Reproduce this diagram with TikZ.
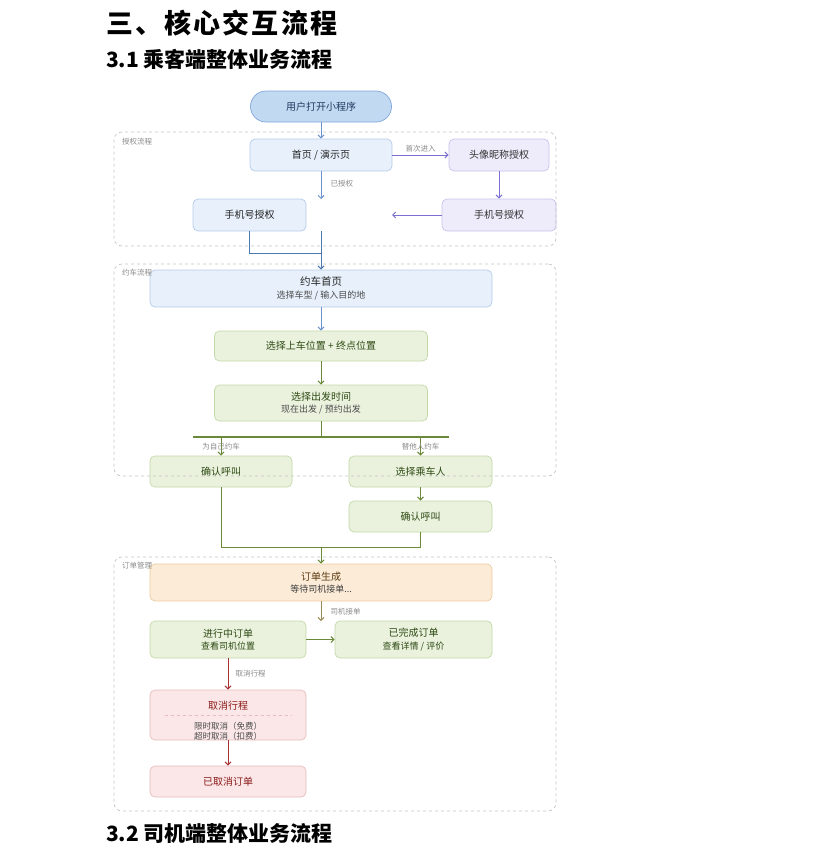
\documentclass[tikz,border=0pt]{standalone}
\usepackage{fontspec}
\setmainfont{Noto Sans CJK SC}
\newfontfamily\cjk{Noto Sans CJK SC}
\newfontfamily\cjktitle[LetterSpace=8]{Noto Sans CJK SC}
\newfontfamily\cjksub{Noto Sans CJK SC}
\usetikzlibrary{arrows.meta}
\definecolor{startfill}{HTML}{C2D9F2}
\definecolor{startdraw}{HTML}{7EA6DA}
\definecolor{bluefill}{HTML}{E7F0FB}
\definecolor{bluedraw}{HTML}{B4CBE8}
\definecolor{purpfill}{HTML}{EEEBFA}
\definecolor{purpdraw}{HTML}{C9C1EA}
\definecolor{greenfill}{HTML}{EAF2DE}
\definecolor{greendraw}{HTML}{C3D8A8}
\definecolor{orfill}{HTML}{FCEBD7}
\definecolor{ordraw}{HTML}{ECCB9F}
\definecolor{redfill}{HTML}{FBE7E7}
\definecolor{reddraw}{HTML}{E6BCBC}
\definecolor{bluearr}{HTML}{6A92CC}
\definecolor{bluedark}{HTML}{4A78B0}
\definecolor{purparr}{HTML}{7B6FCF}
\definecolor{greenarr}{HTML}{6A8A3A}
\definecolor{brownarr}{HTML}{9A8A5A}
\definecolor{redarr}{HTML}{A63232}
\definecolor{greentext}{HTML}{2E4A14}
\definecolor{redtext}{HTML}{8B1A1A}
\definecolor{ortext}{HTML}{5A3A10}
\definecolor{bluetext}{HTML}{1F3A5F}
\definecolor{lbl}{HTML}{8A8A8A}
\definecolor{grp}{HTML}{C4C4C4}
\begin{document}
\begin{tikzpicture}[x=1pt,y=-1pt,
  box/.style={draw, rounded corners=5pt, line width=0.7pt, align=center, inner sep=0pt,
    font=\cjk\fontsize{10}{12.5}\selectfont},
  bluebox/.style={box, fill=bluefill, draw=bluedraw, text=black!85},
  purpbox/.style={box, fill=purpfill, draw=purpdraw, text=black!80},
  greenbox/.style={box, fill=greenfill, draw=greendraw, text=greentext},
  orbox/.style={box, fill=orfill, draw=ordraw, text=ortext},
  redbox/.style={box, fill=redfill, draw=reddraw, text=redtext},
  grpbox/.style={draw=grp, dashed, rounded corners=8pt, line width=0.7pt, inner sep=0pt},
  grplbl/.style={font=\cjk\fontsize{7.5}{8}\selectfont, text=lbl, inner sep=0pt, anchor=west},
  elbl/.style={font=\cjk\fontsize{7.5}{8}\selectfont, text=lbl, inner sep=1pt},
  arr/.style={line width=1pt, -{Straight Barb[length=3pt,width=6pt]}},
  ln/.style={line width=1pt}
]
\useasboundingbox (0,0) rectangle (816,854);
% titles
\node[anchor=west, inner sep=0pt, font=\cjktitle\bfseries\fontsize{27}{30}\selectfont] (t1) at (106,23) {三、核心交互流程};
\node[anchor=west, inner sep=0pt, font=\cjksub\bfseries\fontsize{21}{24}\selectfont] (t2) at (106,59) {3.1 乘客端整体业务流程};
\node[anchor=west, inner sep=0pt, font=\cjksub\bfseries\fontsize{21}{24}\selectfont] (t3) at (106,834) {3.2 司机端整体业务流程};

% nodes
\node[box, fill=startfill, draw=startdraw, text=bluetext, rounded corners=15.5pt, minimum width=141pt, minimum height=31pt] (start) at (321,106.5) {用户打开小程序};
\node[bluebox, minimum width=142pt, minimum height=32pt] (home) at (321,155) {首页 / 演示页};
\node[purpbox, minimum width=100pt, minimum height=32pt] (avatar) at (499,155) {头像昵称授权};
\node[purpbox, minimum width=114pt, minimum height=32pt] (phoneR) at (499,215) {手机号授权};
\node[bluebox, minimum width=113pt, minimum height=32pt] (phoneL) at (249.5,215) {手机号授权};
\coordinate (a1) at (321,199);
\coordinate (a2) at (392,215);
\coordinate (a3) at (321,231);
\coordinate (j1) at (321,253);

\node[bluebox, minimum width=342pt, minimum height=37pt] (ride) at (321,288.5) {{\fontsize{10.5}{12}\selectfont 约车首页}\\[0pt]{\fontsize{9}{10}\selectfont\color{black!70} 选择车型 / 输入目的地}};
\node[greenbox, minimum width=213pt, minimum height=30pt] (pick) at (321,346) {选择上车位置 + 终点位置};
\node[greenbox, minimum width=213pt, minimum height=36pt] (time) at (321,403) {选择出发时间\\[0pt]{\fontsize{9}{10}\selectfont\color{black!70} 现在出发 / 预约出发}};
\coordinate (bar) at (321,437);
\coordinate (barL) at (193,437);
\coordinate (barR) at (449,437);
\coordinate (bl) at (221,437);
\coordinate (br) at (420.5,437);
\node[greenbox, minimum width=142pt, minimum height=31pt] (confL) at (221,471.5) {确认呼叫};
\node[greenbox, minimum width=143pt, minimum height=31pt] (pass) at (420.5,471.5) {选择乘车人};
\node[greenbox, minimum width=143pt, minimum height=31pt] (confR) at (420.5,516.5) {确认呼叫};
\coordinate (m) at (321,547);

\node[orbox, minimum width=342pt, minimum height=37pt] (order) at (321,582.5) {订单生成\\[0pt]{\fontsize{9}{10}\selectfont\color{black!75} 等待司机接单...}};
\coordinate (a4) at (321,621);
\node[greenbox, minimum width=156pt, minimum height=37pt] (ongoing) at (228,639.5) {进行中订单\\[0pt]{\fontsize{9}{10}\selectfont 查看司机位置}};
\node[greenbox, minimum width=157pt, minimum height=37pt] (done) at (413.5,639.5) {已完成订单\\[0pt]{\fontsize{9}{10}\selectfont 查看详情 / 评价}};
\node[redbox, minimum width=156pt, minimum height=50pt] (cancel) at (228,715) {};
\node[inner sep=0pt, text=redtext, font=\cjk\fontsize{10}{11}\selectfont] (cancelT) at (228,706) {取消行程};
\node[inner sep=0pt, align=center, text=black!70, font=\cjk\fontsize{8.5}{10.5}\selectfont] (cancelS) at (228,731.5) {限时取消（免费）\\超时取消（扣费）};
\draw[reddraw, dashed, line width=0.6pt] ([xshift=15pt]cancel.west) -- ([xshift=-14pt]cancel.east);
\node[redbox, minimum width=156pt, minimum height=31pt] (cancelled) at (228,781.5) {已取消订单};

% connectors
\draw[arr, bluearr] (start) -- (home);
\draw[arr, purparr] (home.east) -- node[elbl, above=1pt] (l1) {首次进入} (avatar.west);
\draw[arr, purparr] (avatar.south) -- (phoneR.north);
\draw[arr, purparr] (phoneR.west) -- (a2);
\draw[arr, bluearr] (home.south) -- node[elbl, right=8pt, pos=0.45] (l2) {已授权} (a1);
\draw[ln, bluedark] (phoneL.south) |- (j1);
\draw[arr, bluedark] (a3) -- (ride.north);
\draw[arr, bluearr] (ride.south) -- (pick.north);
\draw[arr, greenarr] (pick.south) -- (time.north);
\draw[ln, greenarr] (time.south) -- (bar);
\draw[line width=1.1pt, greenarr] (barL) -- (barR);
\draw[arr, greenarr] (bl) -- node[elbl, pos=0.5] (l3) {为自己约车} (confL.north);
\draw[arr, greenarr] (br) -- node[elbl, pos=0.5] (l4) {替他人约车} (pass.north);
\draw[arr, greenarr] (pass.south) -- (confR.north);
\draw[ln, greenarr] (confL.south) |- (m);
\draw[ln, greenarr] (confR.south) |- (m);
\draw[arr, greenarr] (m) -- (order.north);
\draw[arr, brownarr] (order.south) -- node[elbl, right=8pt] (l5) {司机接单} (a4);
\draw[arr, greenarr] (ongoing.east) -- (done.west);
\draw[arr, redarr] (ongoing.south) -- node[elbl, right=6pt] (l6) {取消行程} (cancel.north);
\draw[arr, redarr] (cancel.south) -- (cancelled.north);

% groups
\node[grpbox, minimum width=442pt, minimum height=114pt] (g1) at (335,189) {};
\node[grplbl] (g1l) at (122,142) {授权流程};
\node[grpbox, minimum width=442pt, minimum height=212pt] (g2) at (335,370) {};
\node[grplbl] (g2l) at (122,273) {约车流程};
\node[grpbox, minimum width=442pt, minimum height=254pt] (g3) at (335,684) {};
\node[grplbl] (g3l) at (122,566) {订单管理};
\end{tikzpicture}
\end{document}
